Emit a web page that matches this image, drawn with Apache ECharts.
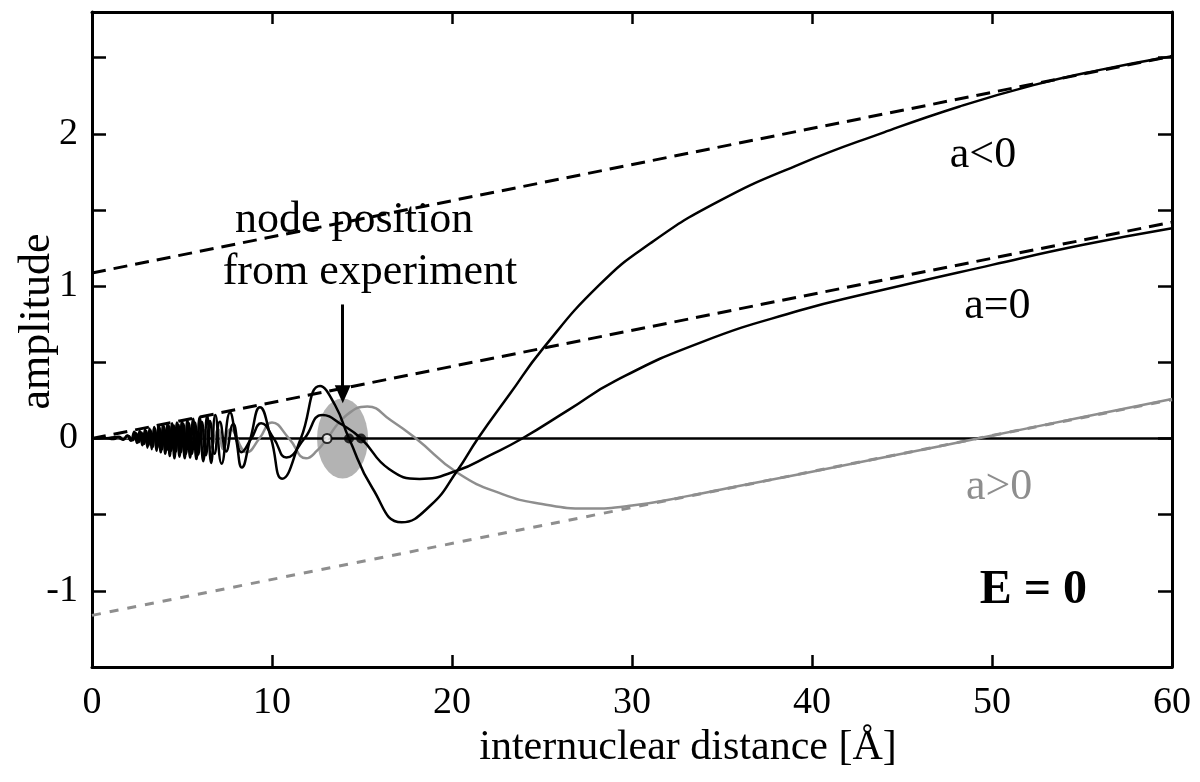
<!DOCTYPE html>
<html><head><meta charset="utf-8">
<script src="https://cdn.jsdelivr.net/npm/echarts@6/dist/echarts.min.js"></script>
<style>html,body{margin:0;padding:0;background:#fff}#c{width:1200px;height:782px}</style>
</head><body><div id="c"></div>
<script>
// ---------- data ----------
const xRange = [0, 60];
const yRange = [-1.5, 2.8];
const xTickStep = 10;
const yTickStep = 0.5;

// a<0 wave function (black solid)
const aNegCurve = [[0,0],[0.7,0.003],[1.2,-0.004],[1.5,0.012],[1.75,-0.008],[1.95,0.02],[2.15,-0.015],[2.35,0.045],[2.5,-0.03],[2.65,0.05],[2.8,-0.045],[2.95,0.06],[3.08,-0.06],[3.2,0.065],[3.32,-0.07],[3.45,0.075],[3.58,-0.08],[3.7,0.085],[3.82,-0.09],[3.95,0.09],[4.07,-0.1],[4.2,0.095],[4.32,-0.115],[4.45,0.1],[4.58,-0.13],[4.72,0.105],[4.86,-0.12],[5.0,0.115],[5.15,-0.13],[5.3,0.12],[5.45,-0.125],[5.62,0.13],[5.8,-0.135],[5.98,0.14],[6.18,-0.15],[6.4,0.15],[6.62,-0.16],[6.85,0.155],[7.2,-0.165],[7.67,0.17],[8.0,0],[8.33,-0.19],[8.8,0],[9.33,0.205],[9.95,0],[10.56,-0.264],[11.6,0],[12.67,0.345],[13.5,0.22],[14.28,0],[15.6,-0.33],[17.2,-0.55],[18.8,-0.44],[20.3,-0.21],[21.44,0],[23.2,0.29],[25.05,0.59],[28.2,1.01],[31.0,1.28],[34.7,1.55],[39.3,1.8],[44,2.01],[48.2,2.18],[52.3,2.32],[56,2.42],[60,2.51]];

// a=0 wave function (black solid)
const aZeroCurve = [[0,0],[0.8,0.002],[1.4,0.01],[1.7,-0.006],[2.0,0.018],[2.25,-0.012],[2.45,0.035],[2.6,-0.025],[2.75,0.04],[2.9,-0.035],[3.02,0.05],[3.14,-0.045],[3.26,0.055],[3.38,-0.055],[3.5,0.065],[3.64,-0.06],[3.76,0.07],[3.9,-0.07],[4.02,0.075],[4.15,-0.075],[4.28,0.08],[4.4,-0.08],[4.54,0.085],[4.66,-0.085],[4.8,0.09],[4.94,-0.09],[5.08,0.095],[5.22,-0.1],[5.38,0.1],[5.55,-0.1],[5.72,0.105],[5.9,-0.105],[6.1,0.11],[6.32,-0.11],[6.55,0.115],[6.8,-0.1],[7.1,0.11],[7.45,-0.085],[7.85,0.095],[8.3,-0.09],[8.85,0],[9.4,0.1],[10.1,0],[10.8,-0.125],[11.8,0],[12.8,0.155],[13.9,0.09],[14.95,0],[16.5,-0.2],[18.2,-0.265],[20.3,-0.21],[22.1,-0.11],[23.9,0],[26.5,0.19],[29.1,0.38],[33.8,0.63],[39.3,0.84],[43,0.95],[50,1.14],[55,1.27],[60,1.38]];

// a>0 wave function (grey)
const aPosCurve = [[0,0],[1.0,0.0],[2.0,0.005],[2.6,-0.01],[3.0,0.015],[3.3,-0.02],[3.55,0.025],[3.8,-0.03],[4.05,0.03],[4.3,-0.035],[4.55,0.035],[4.8,-0.04],[5.05,0.04],[5.3,-0.045],[5.6,0.05],[5.9,-0.05],[6.25,0.055],[6.6,-0.06],[7.0,0.06],[7.3,-0.07],[7.7,0.06],[8.6,-0.09],[9.3,0],[10.0,0.105],[10.95,0],[11.9,-0.13],[12.5,-0.08],[13.06,0],[14.1,0.15],[15.3,0.21],[16.6,0.12],[18.0,0],[20.3,-0.225],[22.8,-0.365],[25,-0.43],[27.5,-0.46],[30,-0.44],[33,-0.38],[36,-0.31],[39.3,-0.235],[45,-0.1],[49.2,0],[55,0.14],[60,0.26]];

// asymptotes
const aNegAsymptote = [[0,1.087],[60,2.51]];
const aZeroAsymptote = [[0,0],[60,1.42]];
const aPosAsymptote = [[0,-1.161],[60,0.255]];
const zeroLine = [[0,0],[60,0]];

// node markers
const nodeRegion = [[13.92,0]];
const nodeOpen = [[13.06,0]];
const nodeFilled = [[14.28,0],[14.95,0]];
const arrowFrom = [13.93,0.88];
const arrowTo = [13.93,0.29];

// texts
const xAxisTitle = 'internuclear distance [Å]';
const yAxisTitle = 'amplitude';
const annotTexts = ['node position','from experiment','a<0','a=0','a>0','E = 0'];
const annotAt = [[14.56,1.43],[15.44,1.09],[49.5,1.86],[50.3,0.87],[50.4,-0.32],[52.3,-1.0]];

// ---------- chart ----------
const SERIF = '"Liberation Serif", "Times New Roman", serif';
const GREY = '#8e8e8e';
const chart = echarts.init(document.getElementById('c'), null, {renderer:'canvas'});

function xAx(pos, showLabel){
  return {type:'value', min:xRange[0], max:xRange[1], interval:xTickStep, position:pos,
    axisLine:{show:true, onZero:false, lineStyle:{color:'#000', width:3}},
    axisTick:{show:true, inside:true, length:12, lineStyle:{color:'#000', width:2.5}},
    axisLabel:{show:showLabel, fontSize:38, fontFamily:SERIF, color:'#000', margin:17},
    splitLine:{show:false},
    name: showLabel ? xAxisTitle : '', nameLocation:'middle', nameGap:60, nameMoveOverlap:false,
    nameTextStyle:{fontSize:42, fontFamily:SERIF, color:'#000', padding:[0,0,0,112]}};
}
function yAx(pos, showLabel){
  return {type:'value', min:yRange[0], max:yRange[1], interval:yTickStep, position:pos,
    axisLine:{show:true, onZero:false, lineStyle:{color:'#000', width:3}},
    axisTick:{show:true, inside:true, length:14, lineStyle:{color:'#000', width:2.5}},
    axisLabel:{show:showLabel, fontSize:38, fontFamily:SERIF, color:'#000', margin:14,
      formatter: v => (Math.abs(v - Math.round(v)) < 1e-9 ? String(Math.round(v)) : '')},
    splitLine:{show:false},
    name: showLabel ? yAxisTitle : '', nameLocation:'middle', nameGap:33, nameRotate:90, nameMoveOverlap:false,
    nameTextStyle:{fontSize:44, fontFamily:SERIF, color:'#000', padding:[0,0,0,36]}};
}

function lineSeries(name, data, color, width, type, smooth, z){
  return {name, type:'line', data, xAxisIndex:0, yAxisIndex:0, showSymbol:false, symbol:'none',
    smooth: smooth, silent:true, z: z,
    lineStyle:{color, width, type}};
}

const option = {
  animation:false,
  backgroundColor:'#fff',
  grid:{left:92, right:28, top:12, bottom:115, containLabel:false, outerBoundsMode:'none'},
  xAxis:[xAx('bottom', true), xAx('top', false)],
  yAxis:[yAx('left', true), yAx('right', false)],
  series:[
    {name:'node region', type:'scatter', data:nodeRegion, symbol:'circle', symbolSize:[51,80],
      itemStyle:{color:'#a0a0a0'}, silent:true, z:1},
    lineSeries('a<0 asymptote', aNegAsymptote, '#000', 3, [14,8], false, 2),
    lineSeries('a=0 asymptote', aZeroAsymptote, '#000', 3, [14,8], false, 2),
    lineSeries('a>0 asymptote', aPosAsymptote, GREY, 3, [9,9], false, 2),
    Object.assign(lineSeries('zero', zeroLine, '#000', 2.5, 'solid', false, 2), {
      markLine:{silent:true, symbol:['none','triangle'], symbolSize:[16,18],
        lineStyle:{color:'#000', width:3, type:'solid'}, label:{show:false},
        data:[[{coord:arrowFrom},{coord:arrowTo}]]}
    }),
    lineSeries('a>0', aPosCurve, GREY, 2.5, 'solid', 0.5, 3),
    lineSeries('a=0', aZeroCurve, '#000', 2.5, 'solid', 0.5, 4),
    lineSeries('a<0', aNegCurve, '#000', 2.5, 'solid', 0.5, 4),
    {name:'node open', type:'scatter', data:nodeOpen, symbol:'circle', symbolSize:9,
      itemStyle:{color:'#fff', borderColor:'#000', borderWidth:2}, silent:true, z:6},
    {name:'node filled', type:'scatter', data:nodeFilled, symbol:'circle', symbolSize:10,
      itemStyle:{color:'#000'}, silent:true, z:6}
  ]
};
chart.setOption(option);

const annotStyle = [
  {fontSize:44, fontWeight:'normal', fill:'#000'},
  {fontSize:44, fontWeight:'normal', fill:'#000'},
  {fontSize:44, fontWeight:'normal', fill:'#000'},
  {fontSize:44, fontWeight:'normal', fill:'#000'},
  {fontSize:44, fontWeight:'normal', fill:GREY},
  {fontSize:48, fontWeight:'bold', fill:'#000'}
];
const graphics = annotTexts.map((t, i) => {
  const p = chart.convertToPixel({gridIndex:0}, annotAt[i]);
  const s = annotStyle[i];
  return {type:'text', x:p[0], y:p[1], z:10, silent:true,
    style:{text:t, fontSize:s.fontSize, fontFamily:SERIF, fontWeight:s.fontWeight, fill:s.fill,
      align:'center', verticalAlign:'middle'}};
});
chart.setOption({graphic:graphics});
</script>
</body></html>
